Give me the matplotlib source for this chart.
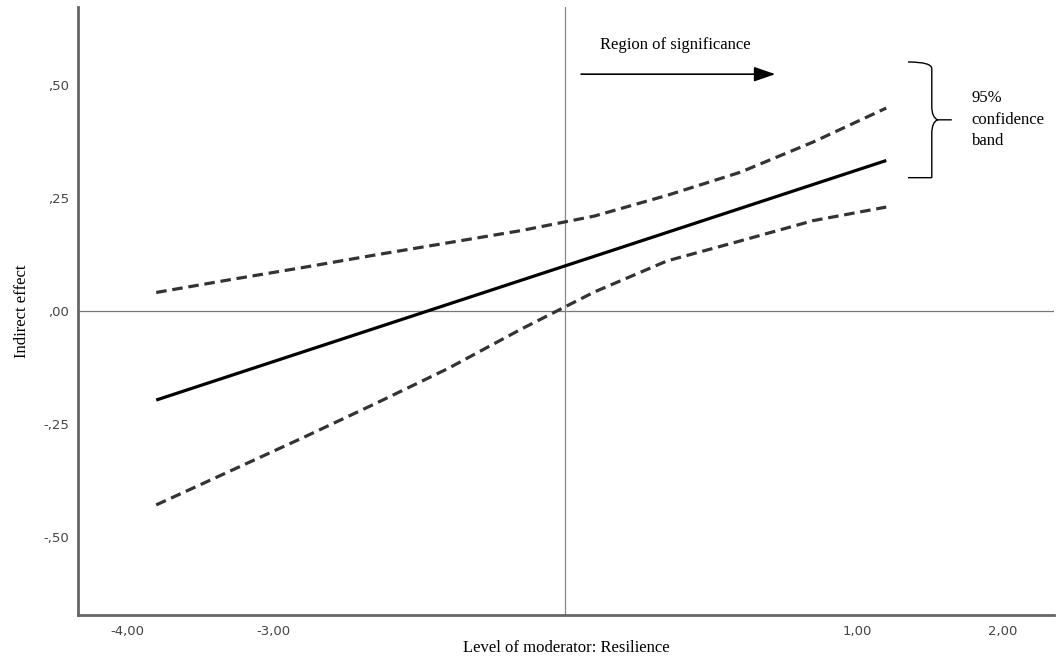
import numpy as np
import matplotlib
matplotlib.use("Agg")
from matplotlib import pyplot as plt
from matplotlib.path import Path
from matplotlib.patches import PathPatch
from matplotlib.ticker import FuncFormatter

# moderator values (resilience) where the effect was read
resilience = [-3.8, -3.3, -2.8, -2.3, -1.8, -1.3, -0.8, -0.3, 0.2, 0.7, 1.2]
# indirect effect and its 95% confidence band
effect = [-0.197, -0.144, -0.091, -0.038, 0.015, 0.068, 0.121, 0.174, 0.227, 0.280, 0.333]
upper_ci = [0.041, 0.069, 0.096, 0.124, 0.151, 0.178, 0.210, 0.256, 0.307, 0.374, 0.449]
lower_ci = [-0.429, -0.355, -0.281, -0.205, -0.127, -0.040, 0.042, 0.111, 0.155, 0.200, 0.230]

# Johnson-Neyman point
jn_point = -1.0

xtick_vals = [-4, -3, 1, 2]
ytick_vals = [-0.5, -0.25, 0, 0.25, 0.5]

serif = ["Liberation Serif", "DejaVu Serif"]


def spss_fmt(v, pos=None):
    # SPSS style: comma decimals, no leading zero
    s = f"{abs(v):.2f}".replace(".", ",")
    if s.startswith("0"):
        s = s[1:]
    return ("-" if v < -1e-9 else "") + s


fig = plt.figure(figsize=(10.64, 6.56), dpi=100)
ax = fig.add_axes([0.073, 0.0625, 0.9176, 0.9268])

ax.set_xlim(-4.338, 2.349)
ax.set_ylim(-0.6726, 0.6726)

# reference lines
ax.axhline(0, color="#777777", lw=0.9, zorder=1)
ax.axvline(jn_point, color="#888888", lw=0.9, zorder=1)

ax.plot(resilience, effect, color="black", lw=2.3, solid_capstyle="butt", zorder=3)
ax.plot(resilience, upper_ci, color="#333333", lw=2.3, dashes=(3.3, 1.8), zorder=3)
ax.plot(resilience, lower_ci, color="#333333", lw=2.3, dashes=(3.3, 1.8), zorder=3)

# spines
for side in ["top", "right"]:
    ax.spines[side].set_visible(False)
for side in ["left", "bottom"]:
    ax.spines[side].set_color("#666666")
    ax.spines[side].set_linewidth(2.0)

ax.set_xticks(xtick_vals)
ax.set_yticks(ytick_vals)
ax.xaxis.set_major_formatter(FuncFormatter(spss_fmt))
ax.yaxis.set_major_formatter(FuncFormatter(spss_fmt))
ax.tick_params(length=0, labelsize=9.5, labelcolor="#444444")
ax.tick_params(axis="x", pad=7)
ax.tick_params(axis="y", pad=6)

ax.set_xlabel("Level of moderator: Resilience", family=serif, fontsize=12, labelpad=2)
ax.set_ylabel("Indirect effect", family=serif, fontsize=12)
ax.yaxis.set_label_coords(-0.049, 0.5)

# region of significance annotation
ax.text(-0.76, 0.588, "Region of significance", family=serif, fontsize=12,
        ha="left", va="center")
ax.annotate("", xy=(0.44, 0.524), xytext=(-0.89, 0.524),
            arrowprops=dict(arrowstyle="-|>,head_length=1.3,head_width=0.45",
                            color="black", lw=1.2, shrinkA=0, shrinkB=0))

# curly brace for the confidence band
x0, xm, xt = 1.349, 1.512, 1.649
yt, yc, yb = 0.551, 0.423, 0.295
verts = [(x0, yt), (xm, yt), (xm, yt - 0.015), (xm, yt - 0.04),
         (xm, yc + 0.03), (xm, yc + 0.005), (xm + 0.04, yc), (xt, yc),
         (xm + 0.04, yc), (xm, yc - 0.005), (xm, yc - 0.03),
         (xm, yb + 0.04), (xm, yb + 0.015), (xm, yb), (x0, yb)]
codes = [Path.MOVETO, Path.CURVE3, Path.CURVE3, Path.LINETO,
         Path.LINETO, Path.CURVE3, Path.CURVE3, Path.LINETO,
         Path.MOVETO, Path.CURVE3, Path.CURVE3,
         Path.LINETO, Path.CURVE3, Path.CURVE3, Path.LINETO]
ax.add_patch(PathPatch(Path(verts, codes), fill=False, lw=1.0, color="black",
                       clip_on=False))
ax.text(1.786, 0.423, "95%\nconfidence\nband", family=serif, fontsize=12,
        ha="left", va="center", linespacing=1.45, clip_on=False)

fig.savefig("out.png", dpi=100)
